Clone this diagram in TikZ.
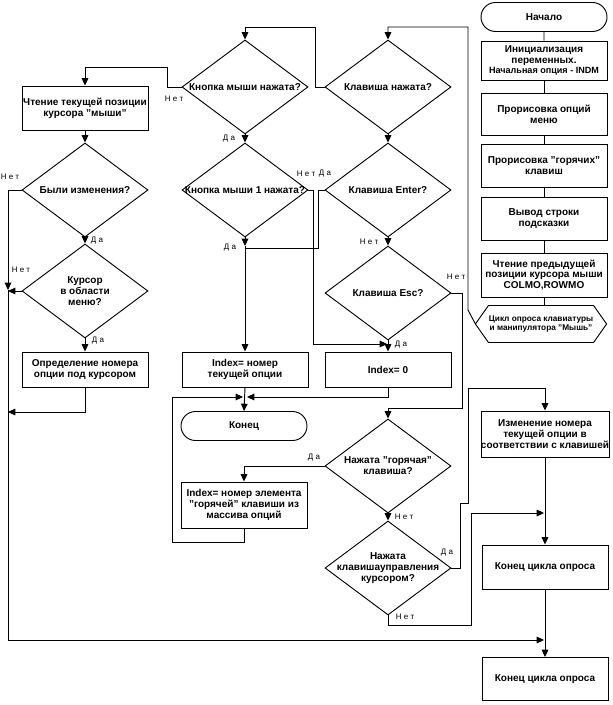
\documentclass[tikz,border=0pt]{standalone}
\usepackage{fontspec}
\setmainfont{Liberation Sans}
\newfontfamily\lblfont{Liberation Sans}
\usetikzlibrary{shapes.geometric,shapes.misc,arrows.meta}
\newlength\px
\setlength\px{0.75pt}
\tikzset{
  base/.style={font=\bfseries\fontsize{7.5}{8.2}\selectfont, align=center, line width=0.7pt, inner sep=0pt},
  pbox/.style={base, draw, minimum width=126\px, minimum height=#1},
  dia/.style={draw, diamond, line width=0.7pt, minimum width=126\px, minimum height=94\px, inner sep=0pt},
  term/.style={base, draw, rounded rectangle, minimum width=126\px, minimum height=29\px},
  dtext/.style={base},
  lab/.style={font=\lblfont\fontsize{6}{6}\selectfont, inner sep=0pt},
  conn/.style={line width=0.7pt},
  >={Triangle[length=5.5pt,width=5pt]}
}
\begin{document}
\begin{tikzpicture}[x=0.75pt,y=-0.75pt]
\useasboundingbox (0,0) rectangle (612,705);

% right column
\node[term] (start) at (544,17) {Начало};
\node[pbox=39\px] (init) at (544,60.5) {Инициализация\\переменных.\\{\fontsize{6.8}{8}\selectfont Начальная опция - INDM}};
\node[pbox=42\px] (pr1) at (544,114) {Прорисовка опций\\меню};
\node[pbox=43\px] (pr2) at (544,165.5) {Прорисовка "горячих"\\клавиш};
\node[pbox=43\px] (outs) at (544,218.5) {Вывод строки\\подсказки};
\node[pbox=44\px] (rdp) at (544,275) {Чтение предыдущей\\позиции курсора мыши\\COLMO,ROWMO};
\node[base, minimum width=104\px, minimum height=36\px,
      font=\bfseries\fontsize{6.2}{7}\selectfont] (hex) at (541,324)
      {Цикл опроса клавиатуры\\и манипулятора "Мышь"};
\draw[conn] ([xshift=-13\px]hex.west) -- (hex.north west) -- (hex.north east)
  -- ([xshift=13\px]hex.east) -- (hex.south east) -- (hex.south west) -- cycle;
\coordinate (hexw) at ([xshift=-13\px]hex.west);

% middle right column
\node[dia] (kp) at (388,87) {};
\node[dtext] at (kp) {Клавиша нажата?};
\node[dia] (ke) at (388,190) {};
\node[dtext] at (ke) {Клавиша Enter?};
\node[dia] (ks) at (388,293) {};
\node[dtext] at (ks) {Клавиша Esc?};
\node[pbox=35\px] (i0) at (388,369.5) {Index= 0};
\node[dia] (hot) at (388,466) {};
\node[dtext] at (hot) {Нажата "горячая"\\клавиша?};
\node[dia] (cc) at (388,568) {};
\node[dtext] at (cc) {Нажата\\клавишауправления\\курсором?};

% middle left column
\node[dia] (km) at (245,87) {};
\node[dtext] at (km) {Кнопка мыши нажата?};
\node[dia] (km1) at (245,190) {};
\node[dtext] at (km1) {Кнопка мыши 1 нажата?};
\node[pbox=35\px] (idx) at (245,369.5) {Index= номер\\текущей опции};
\node[term] (kon) at (244,426) {Конец};
\node[pbox=46\px] (hb) at (244,505) {Index= номер элемента\\"горячей" клавиши из\\массива опций};

% left column
\node[pbox=44\px] (rc) at (85,108) {Чтение текущей позиции\\курсора "мыши"};
\node[dia] (chg) at (85,190) {};
\node[dtext] at (chg) {Были изменения?};
\node[dia] (cur) at (85,291) {};
\node[dtext] at (cur) {Курсор\\в области\\меню?};
\node[pbox=35\px] (det) at (85,369.5) {Определение номера\\опции под курсором};

% right lower column
\node[pbox=46\px] (chn) at (545,434) {Изменение номера\\текущей опции в\\соответствии с клавишей};
\node[pbox=44\px] (end1) at (545,567) {Конец цикла опроса};
\node[pbox=43\px] (end2) at (545,679) {Конец цикла опроса};

% connectors right column
\draw[conn] (start) -- (init);
\draw[conn] (init) -- (pr1);
\draw[conn] (pr1) -- (pr2);
\draw[conn] (pr2) -- (outs);
\draw[conn] (outs) -- (rdp);
\draw[conn] (rdp.south) -- (rdp.south |- hex.north);
\draw[conn,->] (hexw) -- (468,310) -- (468,27) -- (388,27) -- (kp.north);

% key branch
\draw[conn,->] (kp.west) -- (315,87) -- (315,27) -- (245,27) -- (km.north);
\draw[conn,->] (kp.south) -- (ke.north);
\draw[conn,->] (ke.south) -- (ks.north);
\draw[conn,->] (ks.south) -- (i0.north);
\draw[conn] (ke.west) -- (318,190) -- (318,248) -- (245,248);
\draw[conn,->] (ks.east) -- (462,293) -- (462,408) -- (388,408) -- (hot.north);

% mouse branch
\draw[conn,->] (km.west) -- (167,87) -- (167,67) -- (85,67) -- (rc.north);
\draw[conn,->] (km.south) -- (km1.north);
\draw[conn,->] (km1.south) -- (245,246);
\draw[conn,->] (245,246) -- (idx.north);
\draw[conn,->] (km1.east) -- (313,190) -- (313,344) -- (387,344);

% left column flow
\draw[conn,->] (rc.south) -- (chg.north);
\draw[conn,->] (chg.south) -- (cur.north);
\draw[conn,->] (cur.south) -- (det.north);
\draw[conn,->] (chg.west) -- (8,190) -- (8,290);
\draw[conn,->] (cur.west) -- (8,291);
\draw[conn,->] (det.south) -- (85,412) -- (8,412);
\draw[conn,->] (8,290) -- (8,640) -- (544,640);

% to end
\draw[conn,->] (idx.south) -- (kon.north);
\draw[conn,->] (i0.south) -- (388,397) -- (247,397);
\draw[conn,->] (hb.south) -- (244,542) -- (172,542) -- (172,397) -- (243,397);

% hot key
\draw[conn,->] (hot.west) -- (244,466) -- (hb.north);
\draw[conn,->] (hot.south) -- (cc.north);
\draw[conn,->] (cc.east) -- (460,568) -- (460,503) -- (468,503) -- (468,388) -- (545,388) -- (chn.north);
\draw[conn,->] (cc.south) -- (388,625) -- (471,625) -- (471,513) -- (544,513);
\draw[conn,->] (chn.south) -- (end1.north);
\draw[conn,->] (end1.south) -- (end2.north);

% labels
\node[lab] at (10,177) {Н е т};
\node[lab] at (97,241) {Д а};
\node[lab] at (21,270) {Н е т};
\node[lab] at (98,341) {Д а};
\node[lab] at (174,99) {Н е т};
\node[lab] at (229,139) {Д а};
\node[lab] at (306,174) {Н е т};
\node[lab] at (325,174) {Д а};
\node[lab] at (230,248) {Д а};
\node[lab] at (369,242) {Н е т};
\node[lab] at (456,277) {Н е т};
\node[lab] at (401,345) {Д а};
\node[lab] at (314,458) {Д а};
\node[lab] at (404,517) {Н е т};
\node[lab] at (447,553) {Д а};
\node[lab] at (405,617) {Н е т};
\end{tikzpicture}
\end{document}
